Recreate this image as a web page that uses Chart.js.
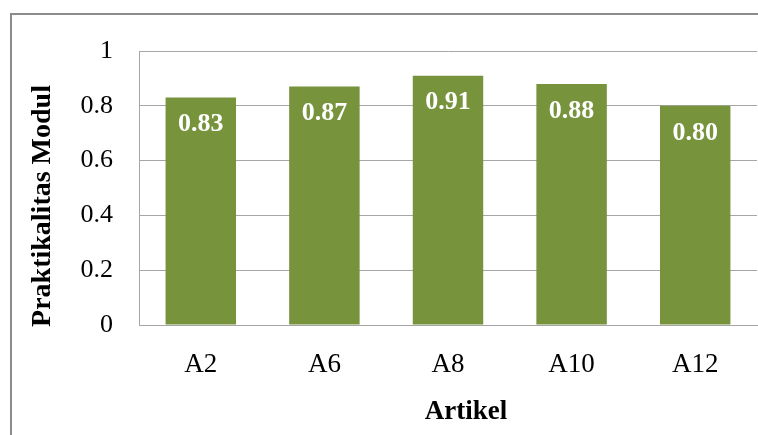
<!DOCTYPE html>
<html>
<head>
<meta charset="utf-8">
<script src="https://cdn.jsdelivr.net/npm/chart.js@4.4.1/dist/chart.umd.min.js"></script>
<style>
  html, body { margin: 0; padding: 0; background: #ffffff; }
  #wrap { position: relative; width: 758px; height: 435px; overflow: hidden; }
  #frame { position: absolute; left: 10px; top: 13px; width: 800px; height: 500px;
           border: 2px solid #8c8c8c; box-sizing: border-box; }
  canvas { position: absolute; left: 0; top: 0; }
</style>
</head>
<body>
<div id="wrap">
  <div id="frame"></div>
  <canvas id="c" width="758" height="435"></canvas>
</div>
<script>
const categories = ['A2', 'A6', 'A8', 'A10', 'A12'];
const praktikalitas = [0.83, 0.87, 0.91, 0.88, 0.80];
const yTicks = [0, 0.2, 0.4, 0.6, 0.8, 1];
const yTitle = 'Praktikalitas Modul';
const xTitle = 'Artikel';

const SERIF = "'Liberation Serif', 'Times New Roman', serif";
const BAR_GREEN = '#77933C';
const GRID_GRAY = '#a6a6a6';

// Value labels inside the bar tops, plus both axis titles
const annotate = {
  id: 'annotate',
  afterDatasetsDraw(chart) {
    const ctx = chart.ctx;
    const meta = chart.getDatasetMeta(0);
    ctx.save();
    ctx.fillStyle = '#ffffff';
    ctx.font = 'bold 26px ' + SERIF;
    ctx.textAlign = 'center';
    ctx.textBaseline = 'middle';
    meta.data.forEach((bar, i) => {
      ctx.fillText(praktikalitas[i].toFixed(2), bar.x, bar.y + 27);
    });
    ctx.restore();
  },
  afterDraw(chart) {
    const ctx = chart.ctx;
    const area = chart.chartArea;
    ctx.save();
    ctx.fillStyle = '#000000';
    ctx.textAlign = 'center';
    ctx.textBaseline = 'middle';
    ctx.font = 'bold 27px ' + SERIF;
    ctx.fillText(xTitle, (area.left + area.right) / 2 + 18, 412);
    ctx.translate(43, 206);
    ctx.rotate(-Math.PI / 2);
    ctx.font = 'bold 28px ' + SERIF;
    ctx.fillText(yTitle, 0, 0);
    ctx.restore();
  }
};

new Chart(document.getElementById('c'), {
  type: 'bar',
  data: {
    labels: categories,
    datasets: [{
      data: praktikalitas,
      backgroundColor: BAR_GREEN,
      borderWidth: 0,
      barPercentage: 0.57,
      categoryPercentage: 1.0
    }]
  },
  options: {
    responsive: false,
    animation: false,
    devicePixelRatio: 1,
    layout: { padding: { top: 51, right: 1, left: 0, bottom: 0 } },
    plugins: {
      legend: { display: false },
      tooltip: { enabled: false }
    },
    scales: {
      x: {
        grid: { display: false, drawTicks: false },
        border: { display: true, color: GRID_GRAY, width: 1 },
        ticks: {
          color: '#000000',
          font: { family: SERIF, size: 27 },
          padding: 24
        },
        afterFit(scale) { scale.height = 110; }
      },
      y: {
        min: 0,
        max: 1,
        afterBuildTicks(scale) { scale.ticks = yTicks.map(v => ({ value: v })); },
        grid: { color: GRID_GRAY, drawTicks: false, lineWidth: 1 },
        border: { display: true, color: GRID_GRAY, width: 1 },
        ticks: {
          color: '#000000',
          font: { family: SERIF, size: 26 },
          padding: 26,
          callback: v => String(v)
        },
        afterFit(scale) { scale.width = 139; }
      }
    }
  },
  plugins: [annotate]
});
</script>
</body>
</html>
